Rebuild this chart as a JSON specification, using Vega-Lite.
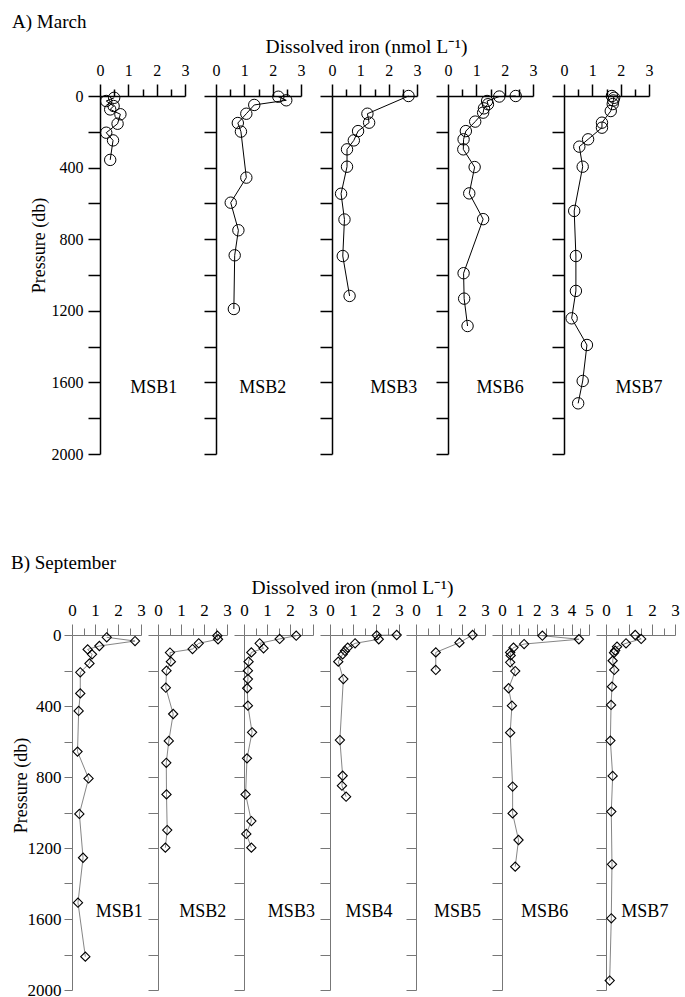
{
"$schema": "https://vega.github.io/schema/vega-lite/v6.json",
"padding": {"left": 11, "top": 13, "right": 2, "bottom": 2},
"background": "white",
"datasets": {
"profiles": [
{"panel":"A-MSB1","fe":0.5,"p":10},{"panel":"A-MSB1","fe":0.22,"p":28},{"panel":"A-MSB1","fe":0.48,"p":56},{"panel":"A-MSB1","fe":0.36,"p":75},{"panel":"A-MSB1","fe":0.72,"p":102},{"panel":"A-MSB1","fe":0.62,"p":155},{"panel":"A-MSB1","fe":0.22,"p":205},{"panel":"A-MSB1","fe":0.46,"p":248},{"panel":"A-MSB1","fe":0.36,"p":357},
{"panel":"A-MSB2","fe":2.2,"p":4},{"panel":"A-MSB2","fe":2.48,"p":24},{"panel":"A-MSB2","fe":1.35,"p":50},{"panel":"A-MSB2","fe":1.07,"p":99},{"panel":"A-MSB2","fe":0.77,"p":151},{"panel":"A-MSB2","fe":0.88,"p":199},{"panel":"A-MSB2","fe":1.07,"p":456},{"panel":"A-MSB2","fe":0.52,"p":596},{"panel":"A-MSB2","fe":0.79,"p":750},{"panel":"A-MSB2","fe":0.66,"p":890},{"panel":"A-MSB2","fe":0.63,"p":1190},
{"panel":"A-MSB3","fe":2.7,"p":0},{"panel":"A-MSB3","fe":1.25,"p":99},{"panel":"A-MSB3","fe":1.31,"p":149},{"panel":"A-MSB3","fe":0.92,"p":196},{"panel":"A-MSB3","fe":0.77,"p":248},{"panel":"A-MSB3","fe":0.53,"p":298},{"panel":"A-MSB3","fe":0.53,"p":395},{"panel":"A-MSB3","fe":0.32,"p":546},{"panel":"A-MSB3","fe":0.44,"p":690},{"panel":"A-MSB3","fe":0.38,"p":894},{"panel":"A-MSB3","fe":0.62,"p":1117},
{"panel":"A-MSB6","fe":2.39,"p":0},{"panel":"A-MSB6","fe":1.81,"p":3},{"panel":"A-MSB6","fe":1.38,"p":28},{"panel":"A-MSB6","fe":1.41,"p":46},{"panel":"A-MSB6","fe":1.27,"p":69},{"panel":"A-MSB6","fe":1.24,"p":93},{"panel":"A-MSB6","fe":0.96,"p":143},{"panel":"A-MSB6","fe":0.63,"p":196},{"panel":"A-MSB6","fe":0.55,"p":242},{"panel":"A-MSB6","fe":0.54,"p":298},{"panel":"A-MSB6","fe":0.94,"p":397},{"panel":"A-MSB6","fe":0.75,"p":544},{"panel":"A-MSB6","fe":1.24,"p":688},{"panel":"A-MSB6","fe":0.55,"p":990},{"panel":"A-MSB6","fe":0.57,"p":1132},{"panel":"A-MSB6","fe":0.69,"p":1285},
{"panel":"A-MSB7","fe":1.69,"p":0},{"panel":"A-MSB7","fe":1.77,"p":10},{"panel":"A-MSB7","fe":1.74,"p":25},{"panel":"A-MSB7","fe":1.72,"p":45},{"panel":"A-MSB7","fe":1.65,"p":84},{"panel":"A-MSB7","fe":1.34,"p":149},{"panel":"A-MSB7","fe":1.34,"p":177},{"panel":"A-MSB7","fe":0.85,"p":242},{"panel":"A-MSB7","fe":0.54,"p":283},{"panel":"A-MSB7","fe":0.66,"p":395},{"panel":"A-MSB7","fe":0.36,"p":642},{"panel":"A-MSB7","fe":0.42,"p":894},{"panel":"A-MSB7","fe":0.42,"p":1089},{"panel":"A-MSB7","fe":0.27,"p":1242},{"panel":"A-MSB7","fe":0.81,"p":1391},{"panel":"A-MSB7","fe":0.66,"p":1592},{"panel":"A-MSB7","fe":0.5,"p":1717},
{"panel":"B-MSB1","fe":1.51,"p":13},{"panel":"B-MSB1","fe":2.74,"p":34},{"panel":"B-MSB1","fe":1.19,"p":62},{"panel":"B-MSB1","fe":0.68,"p":81},{"panel":"B-MSB1","fe":0.87,"p":109},{"panel":"B-MSB1","fe":0.76,"p":160},{"panel":"B-MSB1","fe":0.36,"p":210},{"panel":"B-MSB1","fe":0.36,"p":329},{"panel":"B-MSB1","fe":0.29,"p":428},{"panel":"B-MSB1","fe":0.24,"p":657},{"panel":"B-MSB1","fe":0.72,"p":808},{"panel":"B-MSB1","fe":0.32,"p":1008},{"panel":"B-MSB1","fe":0.48,"p":1255},{"panel":"B-MSB1","fe":0.26,"p":1508},{"panel":"B-MSB1","fe":0.58,"p":1812},
{"panel":"B-MSB2","fe":2.58,"p":4},{"panel":"B-MSB2","fe":2.61,"p":24},{"panel":"B-MSB2","fe":1.77,"p":47},{"panel":"B-MSB2","fe":1.5,"p":79},{"panel":"B-MSB2","fe":0.52,"p":99},{"panel":"B-MSB2","fe":0.56,"p":150},{"panel":"B-MSB2","fe":0.37,"p":201},{"panel":"B-MSB2","fe":0.34,"p":297},{"panel":"B-MSB2","fe":0.66,"p":445},{"panel":"B-MSB2","fe":0.47,"p":597},{"panel":"B-MSB2","fe":0.36,"p":720},{"panel":"B-MSB2","fe":0.37,"p":898},{"panel":"B-MSB2","fe":0.4,"p":1099},{"panel":"B-MSB2","fe":0.32,"p":1198},
{"panel":"B-MSB3","fe":2.27,"p":4},{"panel":"B-MSB3","fe":1.55,"p":22},{"panel":"B-MSB3","fe":0.68,"p":47},{"panel":"B-MSB3","fe":0.85,"p":75},{"panel":"B-MSB3","fe":0.32,"p":98},{"panel":"B-MSB3","fe":0.2,"p":150},{"panel":"B-MSB3","fe":0.17,"p":201},{"panel":"B-MSB3","fe":0.17,"p":248},{"panel":"B-MSB3","fe":0.14,"p":300},{"panel":"B-MSB3","fe":0.17,"p":398},{"panel":"B-MSB3","fe":0.35,"p":548},{"panel":"B-MSB3","fe":0.13,"p":695},{"panel":"B-MSB3","fe":0.07,"p":898},{"panel":"B-MSB3","fe":0.32,"p":1048},{"panel":"B-MSB3","fe":0.1,"p":1121},{"panel":"B-MSB3","fe":0.32,"p":1198},
{"panel":"B-MSB4","fe":2.9,"p":0},{"panel":"B-MSB4","fe":2.03,"p":2},{"panel":"B-MSB4","fe":2.12,"p":24},{"panel":"B-MSB4","fe":1.09,"p":47},{"panel":"B-MSB4","fe":0.77,"p":71},{"panel":"B-MSB4","fe":0.65,"p":90},{"panel":"B-MSB4","fe":0.55,"p":109},{"panel":"B-MSB4","fe":0.36,"p":150},{"panel":"B-MSB4","fe":0.58,"p":248},{"panel":"B-MSB4","fe":0.43,"p":592},{"panel":"B-MSB4","fe":0.55,"p":793},{"panel":"B-MSB4","fe":0.52,"p":849},{"panel":"B-MSB4","fe":0.7,"p":911},
{"panel":"B-MSB5","fe":2.46,"p":0},{"panel":"B-MSB5","fe":1.89,"p":43},{"panel":"B-MSB5","fe":0.86,"p":98},{"panel":"B-MSB5","fe":0.86,"p":197},
{"panel":"B-MSB6","fe":2.32,"p":4},{"panel":"B-MSB6","fe":4.42,"p":24},{"panel":"B-MSB6","fe":1.27,"p":51},{"panel":"B-MSB6","fe":0.66,"p":71},{"panel":"B-MSB6","fe":0.47,"p":98},{"panel":"B-MSB6","fe":0.5,"p":115},{"panel":"B-MSB6","fe":0.47,"p":154},{"panel":"B-MSB6","fe":0.76,"p":203},{"panel":"B-MSB6","fe":0.38,"p":300},{"panel":"B-MSB6","fe":0.57,"p":398},{"panel":"B-MSB6","fe":0.47,"p":550},{"panel":"B-MSB6","fe":0.61,"p":854},{"panel":"B-MSB6","fe":0.61,"p":1005},{"panel":"B-MSB6","fe":0.95,"p":1155},{"panel":"B-MSB6","fe":0.76,"p":1305},
{"panel":"B-MSB7","fe":1.27,"p":0},{"panel":"B-MSB7","fe":1.53,"p":22},{"panel":"B-MSB7","fe":0.87,"p":47},{"panel":"B-MSB7","fe":0.48,"p":66},{"panel":"B-MSB7","fe":0.4,"p":88},{"panel":"B-MSB7","fe":0.35,"p":100},{"panel":"B-MSB7","fe":0.29,"p":145},{"panel":"B-MSB7","fe":0.36,"p":197},{"panel":"B-MSB7","fe":0.26,"p":291},{"panel":"B-MSB7","fe":0.22,"p":394},{"panel":"B-MSB7","fe":0.19,"p":595},{"panel":"B-MSB7","fe":0.29,"p":794},{"panel":"B-MSB7","fe":0.23,"p":995},{"panel":"B-MSB7","fe":0.26,"p":1292},{"panel":"B-MSB7","fe":0.23,"p":1596},{"panel":"B-MSB7","fe":0.16,"p":1947}
],
"labels": [
{"panel":"A-MSB1","station":"MSB1","fe":1.9,"p":1630},{"panel":"A-MSB2","station":"MSB2","fe":1.65,"p":1630},{"panel":"A-MSB3","station":"MSB3","fe":2.18,"p":1630},{"panel":"A-MSB6","station":"MSB6","fe":1.84,"p":1630},{"panel":"A-MSB7","station":"MSB7","fe":2.65,"p":1630},
{"panel":"B-MSB1","station":"MSB1","fe":2.05,"p":1560},{"panel":"B-MSB2","station":"MSB2","fe":1.95,"p":1560},{"panel":"B-MSB3","station":"MSB3","fe":2.06,"p":1560},{"panel":"B-MSB4","station":"MSB4","fe":1.7,"p":1560},{"panel":"B-MSB5","station":"MSB5","fe":1.8,"p":1560},{"panel":"B-MSB6","station":"MSB6","fe":2.45,"p":1560},{"panel":"B-MSB7","station":"MSB7","fe":1.69,"p":1560}
],
"blank": [{"v": 0}]
},
"vconcat": [
{
"title": {"text": "A) March", "anchor": "start", "fontSize": 19, "fontWeight": "normal", "font": "Liberation Serif", "dx": -18, "offset": 4},
"bounds": "flush",
"spacing": 0,
"hconcat": [
{"width": 28, "height": 358, "data": {"name": "blank"}, "mark": {"type": "point", "opacity": 0}, "encoding": {}},
{
"bounds": "flush",
"spacing": 31,
"hconcat": [
{"width": 85, "height": 358,
 "encoding": {
  "x": {"field": "fe", "type": "quantitative", "scale": {"domain": [0, 3], "nice": false}, "axis": {"orient": "top", "values": [0,0.5,1,1.5,2,2.5,3], "labelExpr": "datum.value % 1 === 0 ? format(datum.value, 'd') : ''", "tickSize": {"condition": {"test": "datum.value % 1 === 0", "value": 12}, "value": 7}, "labelPadding": 6, "title": null, "domainWidth": 1.5, "tickWidth": 1.5, "labelFlush": false, "labelOverlap": false}},
  "y": {"field": "p", "type": "quantitative", "scale": {"domain": [0, 2000], "reverse": true, "nice": false}, "axis": {"values": [0,200,400,600,800,1000,1200,1400,1600,1800,2000], "labelExpr": "datum.value % 400 === 0 ? format(datum.value, 'd') : ''", "tickSize": 12, "labelPadding": 5, "title": "Pressure (db)", "titlePadding": 3, "titleY": 149, "domainWidth": 1.5, "tickWidth": 1.5, "labelFlush": false, "labelOverlap": false}}
 },
 "layer": [
  {"data": {"name": "profiles"}, "transform": [{"filter": "datum.panel === 'A-MSB1'"}], "mark": {"type": "line", "color": "black", "strokeWidth": 1}, "encoding": {"order": {"field": "p", "type": "quantitative"}}},
  {"data": {"name": "profiles"}, "transform": [{"filter": "datum.panel === 'A-MSB1'"}], "mark": {"type": "point", "shape": "circle", "size": 130, "filled": false, "color": "black", "strokeWidth": 1, "opacity": 1}},
  {"data": {"name": "labels"}, "transform": [{"filter": "datum.panel === 'A-MSB1'"}], "mark": {"type": "text", "fontSize": 18, "font": "Liberation Serif", "color": "black", "baseline": "middle", "align": "center"}, "encoding": {"text": {"field": "station"}}}
 ]
},
{"width": 85, "height": 358,
 "encoding": {
  "x": {"field": "fe", "type": "quantitative", "scale": {"domain": [0, 3], "nice": false}, "axis": {"orient": "top", "values": [0,0.5,1,1.5,2,2.5,3], "labelExpr": "datum.value % 1 === 0 ? format(datum.value, 'd') : ''", "tickSize": {"condition": {"test": "datum.value % 1 === 0", "value": 12}, "value": 7}, "labelPadding": 6, "title": null, "domainWidth": 1.5, "tickWidth": 1.5, "labelFlush": false, "labelOverlap": false}},
  "y": {"field": "p", "type": "quantitative", "scale": {"domain": [0, 2000], "reverse": true, "nice": false}, "axis": {"values": [0,200,400,600,800,1000,1200,1400,1600,1800,2000], "labels": false, "tickSize": 12, "title": null, "domainWidth": 1.5, "tickWidth": 1.5}}
 },
 "layer": [
  {"data": {"name": "profiles"}, "transform": [{"filter": "datum.panel === 'A-MSB2'"}], "mark": {"type": "line", "color": "black", "strokeWidth": 1}, "encoding": {"order": {"field": "p", "type": "quantitative"}}},
  {"data": {"name": "profiles"}, "transform": [{"filter": "datum.panel === 'A-MSB2'"}], "mark": {"type": "point", "shape": "circle", "size": 130, "filled": false, "color": "black", "strokeWidth": 1, "opacity": 1}},
  {"data": {"name": "labels"}, "transform": [{"filter": "datum.panel === 'A-MSB2'"}], "mark": {"type": "text", "fontSize": 18, "font": "Liberation Serif", "color": "black", "baseline": "middle", "align": "center"}, "encoding": {"text": {"field": "station"}}}
 ]
},
{"width": 85, "height": 358,
 "encoding": {
  "x": {"field": "fe", "type": "quantitative", "scale": {"domain": [0, 3], "nice": false}, "axis": {"orient": "top", "values": [0,0.5,1,1.5,2,2.5,3], "labelExpr": "datum.value % 1 === 0 ? format(datum.value, 'd') : ''", "tickSize": {"condition": {"test": "datum.value % 1 === 0", "value": 12}, "value": 7}, "labelPadding": 6, "title": "Dissolved iron (nmol L⁻¹)", "titleFontSize": 19.5, "titleX": 34, "titlePadding": 6, "domainWidth": 1.5, "tickWidth": 1.5, "labelFlush": false, "labelOverlap": false}},
  "y": {"field": "p", "type": "quantitative", "scale": {"domain": [0, 2000], "reverse": true, "nice": false}, "axis": {"values": [0,200,400,600,800,1000,1200,1400,1600,1800,2000], "labels": false, "tickSize": 12, "title": null, "domainWidth": 1.5, "tickWidth": 1.5}}
 },
 "layer": [
  {"data": {"name": "profiles"}, "transform": [{"filter": "datum.panel === 'A-MSB3'"}], "mark": {"type": "line", "color": "black", "strokeWidth": 1}, "encoding": {"order": {"field": "p", "type": "quantitative"}}},
  {"data": {"name": "profiles"}, "transform": [{"filter": "datum.panel === 'A-MSB3'"}], "mark": {"type": "point", "shape": "circle", "size": 130, "filled": false, "color": "black", "strokeWidth": 1, "opacity": 1}},
  {"data": {"name": "labels"}, "transform": [{"filter": "datum.panel === 'A-MSB3'"}], "mark": {"type": "text", "fontSize": 18, "font": "Liberation Serif", "color": "black", "baseline": "middle", "align": "center"}, "encoding": {"text": {"field": "station"}}}
 ]
},
{"width": 85, "height": 358,
 "encoding": {
  "x": {"field": "fe", "type": "quantitative", "scale": {"domain": [0, 3], "nice": false}, "axis": {"orient": "top", "values": [0,0.5,1,1.5,2,2.5,3], "labelExpr": "datum.value % 1 === 0 ? format(datum.value, 'd') : ''", "tickSize": {"condition": {"test": "datum.value % 1 === 0", "value": 12}, "value": 7}, "labelPadding": 6, "title": null, "domainWidth": 1.5, "tickWidth": 1.5, "labelFlush": false, "labelOverlap": false}},
  "y": {"field": "p", "type": "quantitative", "scale": {"domain": [0, 2000], "reverse": true, "nice": false}, "axis": {"values": [0,200,400,600,800,1000,1200,1400,1600,1800,2000], "labels": false, "tickSize": 12, "title": null, "domainWidth": 1.5, "tickWidth": 1.5}}
 },
 "layer": [
  {"data": {"name": "profiles"}, "transform": [{"filter": "datum.panel === 'A-MSB6'"}], "mark": {"type": "line", "color": "black", "strokeWidth": 1}, "encoding": {"order": {"field": "p", "type": "quantitative"}}},
  {"data": {"name": "profiles"}, "transform": [{"filter": "datum.panel === 'A-MSB6'"}], "mark": {"type": "point", "shape": "circle", "size": 130, "filled": false, "color": "black", "strokeWidth": 1, "opacity": 1}},
  {"data": {"name": "labels"}, "transform": [{"filter": "datum.panel === 'A-MSB6'"}], "mark": {"type": "text", "fontSize": 18, "font": "Liberation Serif", "color": "black", "baseline": "middle", "align": "center"}, "encoding": {"text": {"field": "station"}}}
 ]
},
{"width": 85, "height": 358,
 "encoding": {
  "x": {"field": "fe", "type": "quantitative", "scale": {"domain": [0, 3], "nice": false}, "axis": {"orient": "top", "values": [0,0.5,1,1.5,2,2.5,3], "labelExpr": "datum.value % 1 === 0 ? format(datum.value, 'd') : ''", "tickSize": {"condition": {"test": "datum.value % 1 === 0", "value": 12}, "value": 7}, "labelPadding": 6, "title": null, "domainWidth": 1.5, "tickWidth": 1.5, "labelFlush": false, "labelOverlap": false}},
  "y": {"field": "p", "type": "quantitative", "scale": {"domain": [0, 2000], "reverse": true, "nice": false}, "axis": {"values": [0,200,400,600,800,1000,1200,1400,1600,1800,2000], "labels": false, "tickSize": 12, "title": null, "domainWidth": 1.5, "tickWidth": 1.5}}
 },
 "layer": [
  {"data": {"name": "profiles"}, "transform": [{"filter": "datum.panel === 'A-MSB7'"}], "mark": {"type": "line", "color": "black", "strokeWidth": 1}, "encoding": {"order": {"field": "p", "type": "quantitative"}}},
  {"data": {"name": "profiles"}, "transform": [{"filter": "datum.panel === 'A-MSB7'"}], "mark": {"type": "point", "shape": "circle", "size": 130, "filled": false, "color": "black", "strokeWidth": 1, "opacity": 1}},
  {"data": {"name": "labels"}, "transform": [{"filter": "datum.panel === 'A-MSB7'"}], "mark": {"type": "text", "fontSize": 18, "font": "Liberation Serif", "color": "black", "baseline": "middle", "align": "center"}, "encoding": {"text": {"field": "station"}}}
 ]
}
]
}
]
},
{
"title": {"text": "B) September", "anchor": "start", "fontSize": 19, "fontWeight": "normal", "font": "Liberation Serif", "dx": -1, "offset": 4},
"bounds": "flush",
"spacing": 17,
"hconcat": [
{"width": 69, "height": 355,
 "encoding": {
  "x": {"field": "fe", "type": "quantitative", "scale": {"domain": [0, 3], "nice": false}, "axis": {"orient": "top", "values": [0,0.5,1,1.5,2,2.5,3], "labelExpr": "datum.value % 1 === 0 ? format(datum.value, 'd') : ''", "tickSize": {"condition": {"test": "datum.value % 1 === 0", "value": 11}, "value": 7}, "labelPadding": 5, "labelFontSize": 17, "title": null, "domainColor": "#777", "tickColor": "#777", "domainWidth": 1, "tickWidth": 1, "labelFlush": false, "labelOverlap": false}},
  "y": {"field": "p", "type": "quantitative", "scale": {"domain": [0, 2000], "reverse": true, "nice": false}, "axis": {"values": [0,200,400,600,800,1000,1200,1400,1600,1800,2000], "labelExpr": "datum.value % 400 === 0 ? format(datum.value, 'd') : ''", "labelFontSize": 17, "tickSize": 8, "labelPadding": 3, "title": "Pressure (db)", "titlePadding": -3, "titleY": 150, "domainColor": "#777", "tickColor": "#777", "domainWidth": 1, "tickWidth": 1, "labelFlush": false, "labelOverlap": false}}
 },
 "layer": [
  {"data": {"name": "profiles"}, "transform": [{"filter": "datum.panel === 'B-MSB1'"}], "mark": {"type": "line", "color": "#666", "strokeWidth": 0.8}, "encoding": {"order": {"field": "p", "type": "quantitative"}}},
  {"data": {"name": "profiles"}, "transform": [{"filter": "datum.panel === 'B-MSB1'"}], "mark": {"type": "point", "shape": "diamond", "size": 85, "filled": false, "color": "black", "strokeWidth": 1.1, "opacity": 1}},
  {"data": {"name": "labels"}, "transform": [{"filter": "datum.panel === 'B-MSB1'"}], "mark": {"type": "text", "fontSize": 18, "font": "Liberation Serif", "color": "black", "baseline": "middle", "align": "center"}, "encoding": {"text": {"field": "station"}}}
 ]
},
{"width": 69, "height": 355,
 "encoding": {
  "x": {"field": "fe", "type": "quantitative", "scale": {"domain": [0, 3], "nice": false}, "axis": {"orient": "top", "values": [0,0.5,1,1.5,2,2.5,3], "labelExpr": "datum.value % 1 === 0 ? format(datum.value, 'd') : ''", "tickSize": {"condition": {"test": "datum.value % 1 === 0", "value": 11}, "value": 7}, "labelPadding": 5, "labelFontSize": 17, "title": null, "domainColor": "#777", "tickColor": "#777", "domainWidth": 1, "tickWidth": 1, "labelFlush": false, "labelOverlap": false}},
  "y": {"field": "p", "type": "quantitative", "scale": {"domain": [0, 2000], "reverse": true, "nice": false}, "axis": {"values": [0,200,400,600,800,1000,1200,1400,1600,1800,2000], "labels": false, "tickSize": 10, "title": null, "domainColor": "#777", "tickColor": "#777", "domainWidth": 1, "tickWidth": 1}}
 },
 "layer": [
  {"data": {"name": "profiles"}, "transform": [{"filter": "datum.panel === 'B-MSB2'"}], "mark": {"type": "line", "color": "#666", "strokeWidth": 0.8}, "encoding": {"order": {"field": "p", "type": "quantitative"}}},
  {"data": {"name": "profiles"}, "transform": [{"filter": "datum.panel === 'B-MSB2'"}], "mark": {"type": "point", "shape": "diamond", "size": 85, "filled": false, "color": "black", "strokeWidth": 1.1, "opacity": 1}},
  {"data": {"name": "labels"}, "transform": [{"filter": "datum.panel === 'B-MSB2'"}], "mark": {"type": "text", "fontSize": 18, "font": "Liberation Serif", "color": "black", "baseline": "middle", "align": "center"}, "encoding": {"text": {"field": "station"}}}
 ]
},
{"width": 69, "height": 355,
 "encoding": {
  "x": {"field": "fe", "type": "quantitative", "scale": {"domain": [0, 3], "nice": false}, "axis": {"orient": "top", "values": [0,0.5,1,1.5,2,2.5,3], "labelExpr": "datum.value % 1 === 0 ? format(datum.value, 'd') : ''", "tickSize": {"condition": {"test": "datum.value % 1 === 0", "value": 11}, "value": 7}, "labelPadding": 5, "labelFontSize": 17, "title": null, "domainColor": "#777", "tickColor": "#777", "domainWidth": 1, "tickWidth": 1, "labelFlush": false, "labelOverlap": false}},
  "y": {"field": "p", "type": "quantitative", "scale": {"domain": [0, 2000], "reverse": true, "nice": false}, "axis": {"values": [0,200,400,600,800,1000,1200,1400,1600,1800,2000], "labels": false, "tickSize": 10, "title": null, "domainColor": "#777", "tickColor": "#777", "domainWidth": 1, "tickWidth": 1}}
 },
 "layer": [
  {"data": {"name": "profiles"}, "transform": [{"filter": "datum.panel === 'B-MSB3'"}], "mark": {"type": "line", "color": "#666", "strokeWidth": 0.8}, "encoding": {"order": {"field": "p", "type": "quantitative"}}},
  {"data": {"name": "profiles"}, "transform": [{"filter": "datum.panel === 'B-MSB3'"}], "mark": {"type": "point", "shape": "diamond", "size": 85, "filled": false, "color": "black", "strokeWidth": 1.1, "opacity": 1}},
  {"data": {"name": "labels"}, "transform": [{"filter": "datum.panel === 'B-MSB3'"}], "mark": {"type": "text", "fontSize": 18, "font": "Liberation Serif", "color": "black", "baseline": "middle", "align": "center"}, "encoding": {"text": {"field": "station"}}}
 ]
},
{"width": 69, "height": 355,
 "encoding": {
  "x": {"field": "fe", "type": "quantitative", "scale": {"domain": [0, 3], "nice": false}, "axis": {"orient": "top", "values": [0,0.5,1,1.5,2,2.5,3], "labelExpr": "datum.value % 1 === 0 ? format(datum.value, 'd') : ''", "tickSize": {"condition": {"test": "datum.value % 1 === 0", "value": 11}, "value": 7}, "labelPadding": 5, "labelFontSize": 17, "title": "Dissolved iron (nmol L⁻¹)", "titleFontSize": 19.5, "titleX": 22, "titlePadding": 4, "domainColor": "#777", "tickColor": "#777", "domainWidth": 1, "tickWidth": 1, "labelFlush": false, "labelOverlap": false}},
  "y": {"field": "p", "type": "quantitative", "scale": {"domain": [0, 2000], "reverse": true, "nice": false}, "axis": {"values": [0,200,400,600,800,1000,1200,1400,1600,1800,2000], "labels": false, "tickSize": 10, "title": null, "domainColor": "#777", "tickColor": "#777", "domainWidth": 1, "tickWidth": 1}}
 },
 "layer": [
  {"data": {"name": "profiles"}, "transform": [{"filter": "datum.panel === 'B-MSB4'"}], "mark": {"type": "line", "color": "#666", "strokeWidth": 0.8}, "encoding": {"order": {"field": "p", "type": "quantitative"}}},
  {"data": {"name": "profiles"}, "transform": [{"filter": "datum.panel === 'B-MSB4'"}], "mark": {"type": "point", "shape": "diamond", "size": 85, "filled": false, "color": "black", "strokeWidth": 1.1, "opacity": 1}},
  {"data": {"name": "labels"}, "transform": [{"filter": "datum.panel === 'B-MSB4'"}], "mark": {"type": "text", "fontSize": 18, "font": "Liberation Serif", "color": "black", "baseline": "middle", "align": "center"}, "encoding": {"text": {"field": "station"}}}
 ]
},
{"width": 69, "height": 355,
 "encoding": {
  "x": {"field": "fe", "type": "quantitative", "scale": {"domain": [0, 3], "nice": false}, "axis": {"orient": "top", "values": [0,0.5,1,1.5,2,2.5,3], "labelExpr": "datum.value % 1 === 0 ? format(datum.value, 'd') : ''", "tickSize": {"condition": {"test": "datum.value % 1 === 0", "value": 11}, "value": 7}, "labelPadding": 5, "labelFontSize": 17, "title": null, "domainColor": "#777", "tickColor": "#777", "domainWidth": 1, "tickWidth": 1, "labelFlush": false, "labelOverlap": false}},
  "y": {"field": "p", "type": "quantitative", "scale": {"domain": [0, 2000], "reverse": true, "nice": false}, "axis": {"values": [0,200,400,600,800,1000,1200,1400,1600,1800,2000], "labels": false, "tickSize": 10, "title": null, "domainColor": "#777", "tickColor": "#777", "domainWidth": 1, "tickWidth": 1}}
 },
 "layer": [
  {"data": {"name": "profiles"}, "transform": [{"filter": "datum.panel === 'B-MSB5'"}], "mark": {"type": "line", "color": "#666", "strokeWidth": 0.8}, "encoding": {"order": {"field": "p", "type": "quantitative"}}},
  {"data": {"name": "profiles"}, "transform": [{"filter": "datum.panel === 'B-MSB5'"}], "mark": {"type": "point", "shape": "diamond", "size": 85, "filled": false, "color": "black", "strokeWidth": 1.1, "opacity": 1}},
  {"data": {"name": "labels"}, "transform": [{"filter": "datum.panel === 'B-MSB5'"}], "mark": {"type": "text", "fontSize": 18, "font": "Liberation Serif", "color": "black", "baseline": "middle", "align": "center"}, "encoding": {"text": {"field": "station"}}}
 ]
},
{"width": 87, "height": 355,
 "encoding": {
  "x": {"field": "fe", "type": "quantitative", "scale": {"domain": [0, 5], "nice": false}, "axis": {"orient": "top", "values": [0,0.5,1,1.5,2,2.5,3,3.5,4,4.5,5], "labelExpr": "datum.value % 1 === 0 ? format(datum.value, 'd') : ''", "tickSize": {"condition": {"test": "datum.value % 1 === 0", "value": 11}, "value": 7}, "labelPadding": 5, "labelFontSize": 17, "title": null, "domainColor": "#777", "tickColor": "#777", "domainWidth": 1, "tickWidth": 1, "labelFlush": false, "labelOverlap": false}},
  "y": {"field": "p", "type": "quantitative", "scale": {"domain": [0, 2000], "reverse": true, "nice": false}, "axis": {"values": [0,200,400,600,800,1000,1200,1400,1600,1800,2000], "labels": false, "tickSize": 10, "title": null, "domainColor": "#777", "tickColor": "#777", "domainWidth": 1, "tickWidth": 1}}
 },
 "layer": [
  {"data": {"name": "profiles"}, "transform": [{"filter": "datum.panel === 'B-MSB6'"}], "mark": {"type": "line", "color": "#666", "strokeWidth": 0.8}, "encoding": {"order": {"field": "p", "type": "quantitative"}}},
  {"data": {"name": "profiles"}, "transform": [{"filter": "datum.panel === 'B-MSB6'"}], "mark": {"type": "point", "shape": "diamond", "size": 85, "filled": false, "color": "black", "strokeWidth": 1.1, "opacity": 1}},
  {"data": {"name": "labels"}, "transform": [{"filter": "datum.panel === 'B-MSB6'"}], "mark": {"type": "text", "fontSize": 18, "font": "Liberation Serif", "color": "black", "baseline": "middle", "align": "center"}, "encoding": {"text": {"field": "station"}}}
 ]
},
{"width": 69, "height": 355,
 "encoding": {
  "x": {"field": "fe", "type": "quantitative", "scale": {"domain": [0, 3], "nice": false}, "axis": {"orient": "top", "values": [0,0.5,1,1.5,2,2.5,3], "labelExpr": "datum.value % 1 === 0 ? format(datum.value, 'd') : ''", "tickSize": {"condition": {"test": "datum.value % 1 === 0", "value": 11}, "value": 7}, "labelPadding": 5, "labelFontSize": 17, "title": null, "domainColor": "#777", "tickColor": "#777", "domainWidth": 1, "tickWidth": 1, "labelFlush": false, "labelOverlap": false}},
  "y": {"field": "p", "type": "quantitative", "scale": {"domain": [0, 2000], "reverse": true, "nice": false}, "axis": {"values": [0,200,400,600,800,1000,1200,1400,1600,1800,2000], "labels": false, "tickSize": 10, "title": null, "domainColor": "#777", "tickColor": "#777", "domainWidth": 1, "tickWidth": 1}}
 },
 "layer": [
  {"data": {"name": "profiles"}, "transform": [{"filter": "datum.panel === 'B-MSB7'"}], "mark": {"type": "line", "color": "#666", "strokeWidth": 0.8}, "encoding": {"order": {"field": "p", "type": "quantitative"}}},
  {"data": {"name": "profiles"}, "transform": [{"filter": "datum.panel === 'B-MSB7'"}], "mark": {"type": "point", "shape": "diamond", "size": 85, "filled": false, "color": "black", "strokeWidth": 1.1, "opacity": 1}},
  {"data": {"name": "labels"}, "transform": [{"filter": "datum.panel === 'B-MSB7'"}], "mark": {"type": "text", "fontSize": 18, "font": "Liberation Serif", "color": "black", "baseline": "middle", "align": "center"}, "encoding": {"text": {"field": "station"}}}
 ]
}
]
}
],
"spacing": 92,
"config": {
 "font": "Liberation Serif",
 "view": {"stroke": null},
 "axis": {"grid": false, "labelFont": "Liberation Serif", "titleFont": "Liberation Serif", "labelFontSize": 16, "titleFontSize": 18, "labelColor": "black", "titleColor": "black", "titleFontWeight": "normal", "domainColor": "black", "tickColor": "black"}
}
}
